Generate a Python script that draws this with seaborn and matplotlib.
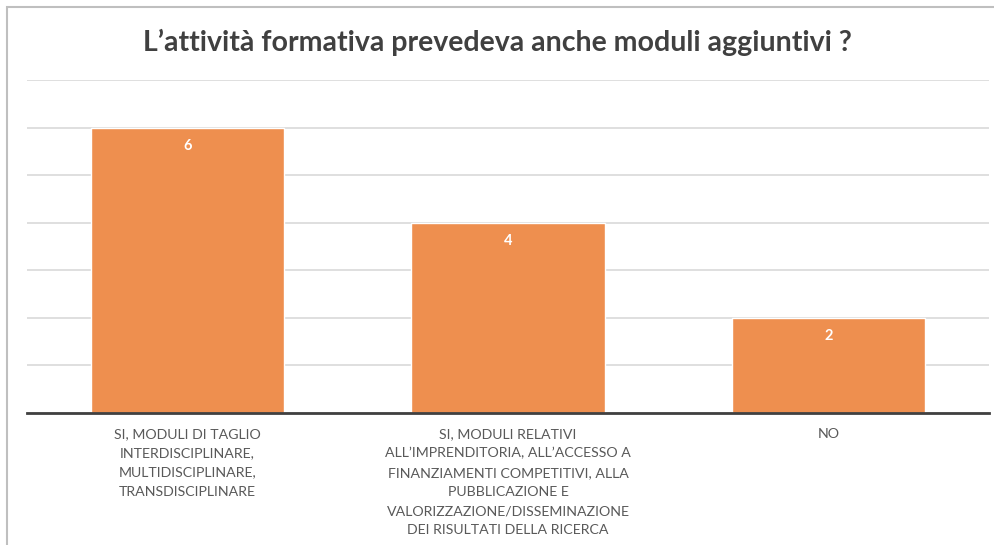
import matplotlib
matplotlib.use("Agg")
import matplotlib.pyplot as plt
import seaborn as sns
import pandas as pd
from matplotlib.patches import Rectangle

categories = [
    "SI, MODULI DI TAGLIO\nINTERDISCIPLINARE,\nMULTIDISCIPLINARE,\nTRANSDISCIPLINARE",
    "SI, MODULI RELATIVI\nALL\u2019IMPRENDITORIA, ALL\u2019ACCESSO A\nFINANZIAMENTI COMPETITIVI, ALLA\nPUBBLICAZIONE E\nVALORIZZAZIONE/DISSEMINAZIONE\nDEI RISULTATI DELLA RICERCA",
    "NO",
]
values = [6, 4, 2]
title = "L\u2019attività formativa prevedeva anche moduli aggiuntivi ?"

df = pd.DataFrame({"cat": categories, "val": values})

sns.set_theme(style="white")
plt.rcParams['font.family'] = ['Lato', 'DejaVu Sans']

fig = plt.figure(figsize=(9.95, 5.45), dpi=100)
ax = fig.add_axes([27 / 995, 1 - 413 / 545, 962 / 995, 333 / 545])

sns.barplot(data=df, x="cat", y="val", color="#EE8F4F", saturation=1,
            width=0.602, ax=ax)

ax.set_ylim(0, 7)
ax.set_yticks(range(0, 8))
ax.yaxis.grid(True, color="#D9D9D9", linewidth=1.2)
ax.set_axisbelow(True)
ax.tick_params(axis="y", left=False, labelleft=False)
ax.tick_params(axis="x", bottom=False, labelbottom=False)
ax.set_xlabel("")
ax.set_ylabel("")
for s in ["top", "right", "left"]:
    ax.spines[s].set_visible(False)
ax.spines["bottom"].set_color("#404040")
ax.spines["bottom"].set_linewidth(2)

# category labels drawn as text so the line spacing can be set
trans = ax.get_xaxis_transform()
for i, c in enumerate(categories):
    ax.text(i, -15 / 333, c, transform=trans, ha="center", va="top",
            fontsize=10.2, color="#595959", linespacing=1.72, clip_on=False)

for i, v in enumerate(values):
    ax.text(i, v - 0.38, str(v), ha="center", va="center", color="white",
            fontsize=10.5, fontweight="bold")

fig.text(0.5, 1 - 42 / 545, title, ha="center", va="center", fontsize=20.5,
         fontweight="bold", color="#404040")

fig.patches.append(Rectangle((7 / 995, -0.1), 1.2, 1 - 7 / 545 + 0.1,
                             transform=fig.transFigure, fill=False,
                             edgecolor="#BFBFBF", linewidth=1.5))

fig.savefig("out.png", dpi=100)
